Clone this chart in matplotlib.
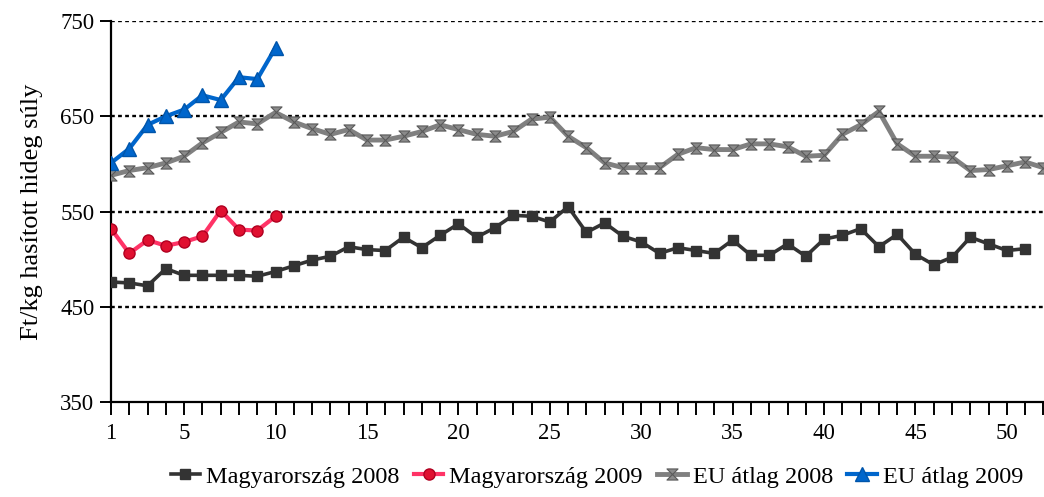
import numpy as np
import matplotlib
matplotlib.use("Agg")
import matplotlib.pyplot as plt
from matplotlib.path import Path
from matplotlib.ticker import MultipleLocator, FixedLocator

plt.rcParams['font.family'] = ['Liberation Serif', 'DejaVu Serif']

weeks_2008 = np.arange(1, 53)
weeks_2009 = np.arange(1, 11)

# Magyarország 2008 (weeks 1-51)
hu_2008 = [476, 475, 472, 490, 483, 483, 483, 483, 482, 487,
           493, 499, 503, 513, 510, 509, 523, 512, 525, 537,
           523, 533, 546, 545, 539, 555, 528, 538, 524, 518,
           506, 512, 509, 506, 520, 504, 504, 516, 503, 521,
           525, 532, 513, 526, 505, 494, 502, 523, 516, 509,
           511]
# Magyarország 2009
hu_2009 = [532, 506, 520, 514, 518, 524, 551, 531, 530, 545]
# EU átlag 2008 (weeks 1-52)
eu_2008 = [588, 593, 596, 601, 608, 622, 633, 644, 642, 654,
           644, 637, 631, 636, 625, 625, 629, 634, 641, 636,
           631, 629, 634, 647, 649, 629, 617, 601, 596, 596,
           596, 610, 617, 615, 615, 621, 621, 618, 608, 609,
           631, 641, 655, 621, 608, 608, 607, 593, 594, 598,
           602, 596]
# EU átlag 2009
eu_2009 = [601, 616, 641, 650, 657, 672, 667, 691, 689, 722]

labels = ['Magyarország 2008', 'Magyarország 2009', 'EU átlag 2008', 'EU átlag 2009']
y_ticks = [350, 450, 550, 650, 750]
x_ticks = [1, 5, 10, 15, 20, 25, 30, 35, 40, 45, 50]

# hourglass marker for the EU 2008 series
hourglass = Path([(-1, 1), (1, 1), (-1, -1), (1, -1), (-1, 1)],
                 [Path.MOVETO, Path.LINETO, Path.LINETO, Path.LINETO, Path.CLOSEPOLY])

fig = plt.figure(figsize=(10.44, 4.97), dpi=100)
ax = fig.add_axes([111 / 1044, 95 / 497, 1 - 111 / 1044 - 0.0005, 381 / 497])

ax.plot(weeks_2008[:len(hu_2008)], hu_2008, color='#333333', lw=2.6,
        marker='s', ms=7, mfc='#333333', mec='#333333', label=labels[0], zorder=3)
ax.plot(weeks_2009, hu_2009, color='#ff3366', lw=3,
        marker='o', ms=8, mfc='#e01030', mec='#b00020', label=labels[1], zorder=4)
ax.plot(weeks_2008, eu_2008, color='#808080', lw=3.5,
        marker=hourglass, ms=8, mfc='#8a8a8a', mec='#5a5a5a', mew=0.8, label=labels[2], zorder=3)
ax.plot(weeks_2009, eu_2009, color='#0066cc', lw=3,
        marker='^', ms=10, mfc='#0066cc', mec='#0055aa', label=labels[3], zorder=4)

ax.set_xlim(1, 52)
ax.set_ylim(350, 750)
ax.yaxis.set_major_locator(FixedLocator(y_ticks))
ax.xaxis.set_major_locator(FixedLocator(x_ticks))
ax.xaxis.set_minor_locator(MultipleLocator(1))

for y in y_ticks[1:]:
    ax.axhline(y, color='black', lw=1.7, ls=(0, (1.6, 1.4)), zorder=1)

for s in ['top', 'right']:
    ax.spines[s].set_visible(False)
ax.spines['left'].set_linewidth(1.6)
ax.spines['bottom'].set_linewidth(1.6)

ax.tick_params(axis='y', direction='out', length=8, width=1.4, labelsize=16.5, pad=4)
ax.tick_params(axis='x', which='both', direction='out', length=9, width=1.4, labelsize=16.5, pad=6)

ax.set_ylabel('Ft/kg hasított hideg súly', fontsize=19, labelpad=12)

fig.legend(loc='center', bbox_to_anchor=(597 / 1044, 1 - 477 / 497), ncol=4,
           frameon=False, fontsize=17.5, handlelength=1.2, handletextpad=0.25,
           columnspacing=0.6)

fig.savefig('out.png', dpi=100)
